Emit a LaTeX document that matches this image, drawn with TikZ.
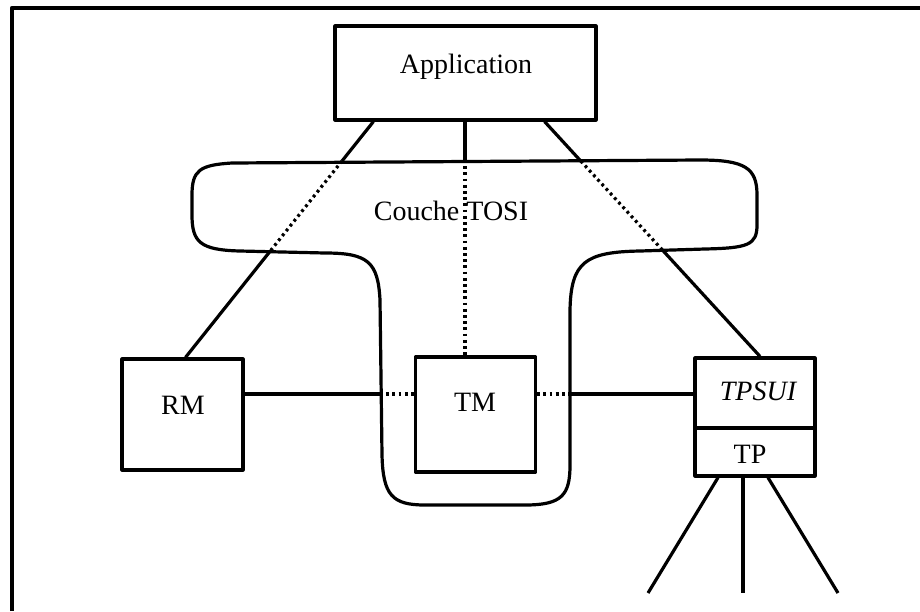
\documentclass[tikz,border=0pt]{standalone}
\usepackage{fontspec}
\setmainfont{Liberation Serif}
\usetikzlibrary{calc}
\begin{document}
\begin{tikzpicture}[x=1pt,y=-1pt, line width=3.2pt, line join=round,
  box/.style={draw, line width=3.2pt, inner sep=0pt},
  lbl/.style={font=\fontsize{28}{32}\selectfont, inner sep=0pt},
  dotline/.style={line width=3.2pt, dash pattern=on 2.8pt off 3.4pt}]
\useasboundingbox (0,0) rectangle (920,611);
% frame
\draw[line width=4.8pt] (12,611) -- (12,8) -- (920,8);
% boxes
\node[box, minimum width=261pt, minimum height=94pt] (app) at (465.5,73) {};
\node[box, minimum width=121pt, minimum height=111pt] (rm) at (182.5,414.5) {};
\node[box, minimum width=120pt, minimum height=115pt] (tm) at (475.5,414.5) {};
\node[box, minimum width=120pt, minimum height=70pt] (tpsui) at (755,393) {};
\node[box, minimum width=120pt, minimum height=48pt] (tp) at (755,452) {};
% labels
\node[lbl] (tapp) at (466,67) {Application};
\node[lbl] (trm) at (183,405) {RM};
\node[lbl] (ttm) at (475,402) {TM};
\node[lbl] (ttpsui) at (758,391) {\itshape TPSUI};
\node[lbl] (ttp) at (750,454) {TP};
\node[lbl] (tcouche) at (451,211) {Couche TOSI};
% couche TOSI outline
\draw (232,163) -- (700,160) .. controls (745,160) and (757,168) .. (757,195)
  -- (757,225) .. controls (757,245) and (748,248) .. (705,249)
  -- (640,251) .. controls (585,252) and (571,262) .. (570,310)
  -- (570,465) .. controls (570,495) and (562,505) .. (525,505)
  -- (425,505) .. controls (392,505) and (383,495) .. (382,455)
  -- (380,300) .. controls (378,262) and (368,253) .. (325,253)
  -- (240,251) .. controls (200,250) and (192,242) .. (192,215)
  -- (192,195) .. controls (192,170) and (200,165) .. (232,163) -- cycle;
% connectors
\coordinate (ha) at ([xshift=40pt]app.south west);
\coordinate (hr) at ([xshift=-53pt]app.south east);
\coordinate (rmt) at ([xshift=3pt]rm.north);
\coordinate (tpt) at ([xshift=5pt]tpsui.north);
\draw (ha) -- ($(ha)!0.167!(rmt)$) coordinate (l1);
\draw[dotline] (l1) -- ($(ha)!0.552!(rmt)$) coordinate (l2);
\draw (l2) -- (rmt);
\draw (hr) -- ($(hr)!0.168!(tpt)$) coordinate (r1);
\draw[dotline] (r1) -- ($(hr)!0.546!(tpt)$) coordinate (r2);
\draw (r2) -- (tpt);
\coordinate (vt) at (465,160);
\coordinate (vb) at (465,357);
\draw (app.south -| vt) -- (vt);
\draw[dotline] (vt) -- (vb);
\coordinate (sl) at (380,394);
\coordinate (sr) at (570,394);
\draw (rm.east |- sl) -- (sl);
\draw[dotline] (sl) -- (tm.west |- sl);
\draw[dotline] (tm.east |- sr) -- (sr);
\draw (sr) -- (tpsui.west |- sr);
\coordinate (e1) at (648,593);
\coordinate (e2) at (743,593);
\coordinate (e3) at (838,593);
\draw ([xshift=-37pt]tp.south) -- (e1);
\draw ([xshift=-12pt]tp.south) -- (e2);
\draw ([xshift=13pt]tp.south) -- (e3);
\end{tikzpicture}
\end{document}
